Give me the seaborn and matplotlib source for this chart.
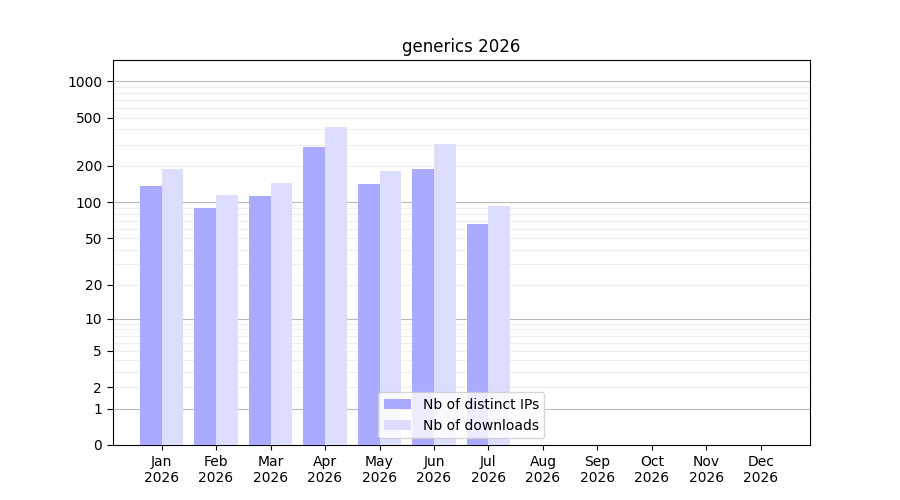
import numpy as np
import pandas as pd
import matplotlib
matplotlib.use("Agg")
import matplotlib.pyplot as plt
import seaborn as sns

months = ["Jan\n2026", "Feb\n2026", "Mar\n2026", "Apr\n2026", "May\n2026", "Jun\n2026",
          "Jul\n2026", "Aug\n2026", "Sep\n2026", "Oct\n2026", "Nov\n2026", "Dec\n2026"]
ips = [135, 90, 112, 285, 140, 190, 65, 0, 0, 0, 0, 0]
downloads = [190, 115, 143, 420, 180, 305, 92, 0, 0, 0, 0, 0]

df = pd.DataFrame({
    "month": months * 2,
    "value": ips + downloads,
    "series": ["Nb of distinct IPs"] * 12 + ["Nb of downloads"] * 12,
})

fig, ax = plt.subplots(figsize=(9, 5), dpi=100)
ax.set_yscale("function", functions=(lambda y: np.log10(1 + np.maximum(y, 0)),
                                     lambda t: 10 ** t - 1))
sns.barplot(data=df, x="month", y="value", hue="series", ax=ax,
            palette=["#aaaaff", "#ddddff"], width=0.8, saturation=1, zorder=3)
ax.set_ylim(0, 1500)
major = [0, 1, 2, 5, 10, 20, 50, 100, 200, 500, 1000]
ax.set_yticks(major)
ax.set_yticklabels([str(v) for v in major])
minor = [3, 4, 6, 7, 8, 9] + [30, 40, 60, 70, 80, 90] + [300, 400, 600, 700, 800, 900]
ax.set_yticks(major + minor, minor=False)
ax.set_yticklabels([str(v) if v in major else "" for v in major + minor])
for v in [1, 10, 100, 1000]:
    ax.axhline(v, color="#bbbbbb", lw=0.8, zorder=1)
for v in [2, 3, 4, 5, 6, 7, 8, 9, 20, 30, 40, 50, 60, 70, 80, 90, 200, 300, 400, 500, 600, 700, 800, 900]:
    ax.axhline(v, color="#eeeeee", lw=0.8, zorder=0)
ax.tick_params(axis="y", which="both", length=4)
for t, lab in zip(ax.yaxis.get_major_ticks(), major + minor):
    if lab not in major:
        t.tick1line.set_visible(False)
ax.set_xlim(-0.9, 11.9)
ax.set_xlabel("")
ax.set_ylabel("")
ax.set_title("generics 2026")
ax.legend(loc="lower center", title=None)
fig.subplots_adjust(left=0.125, right=0.9, top=0.88, bottom=0.11)
fig.savefig("out.png")
